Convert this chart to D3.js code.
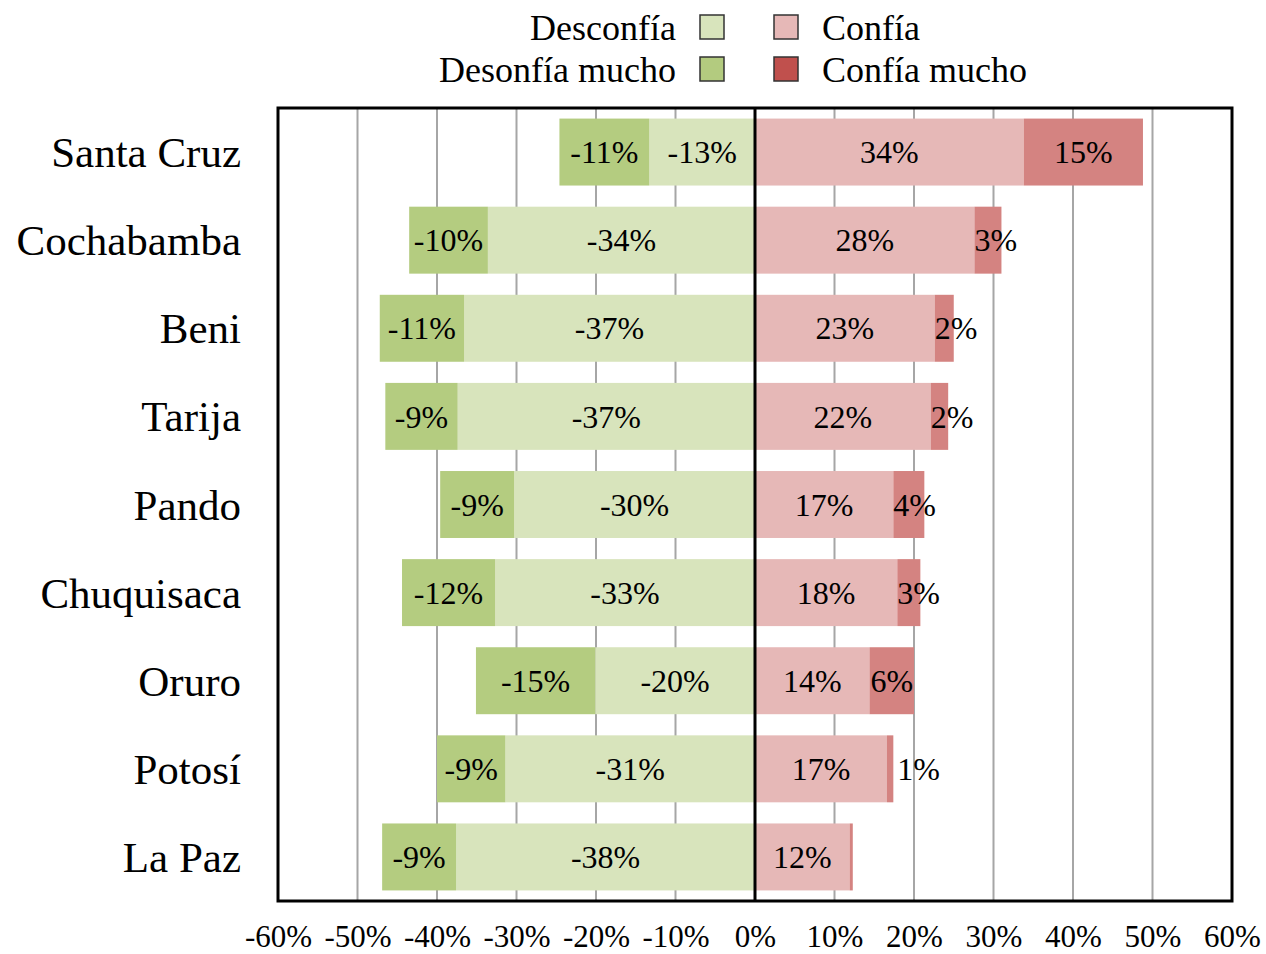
<!DOCTYPE html>
<html>
<head>
<meta charset="utf-8">
<script src="https://cdn.jsdelivr.net/npm/d3@7"></script>
<style>
  body { margin: 0; background: #fff; }
  svg { display: block; }
  text { font-family: "Liberation Serif", "Times New Roman", serif; fill: #000; }
</style>
</head>
<body>
<svg id="chart" width="1266" height="954"></svg>
<script>
const categories = ["Santa Cruz", "Cochabamba", "Beni", "Tarija", "Pando", "Chuquisaca", "Oruro", "Potosí", "La Paz"];
const desconfia      = [-13.3, -33.6, -36.6, -37.4, -30.3, -32.7, -20.1, -31.4, -37.6];
const desconfiaMucho = [-11.3,  -9.9, -10.6,  -9.1,  -9.3, -11.7, -15.0,  -8.6,  -9.3];
const confia         = [ 33.8,  27.6,  22.6,  22.1,  17.4,  17.9,  14.4,  16.6,  11.9];
const confiaMucho    = [ 15.0,   3.4,   2.4,   2.2,   3.9,   2.9,   5.6,   0.8,   0.4];
const tickValues = [-60, -50, -40, -30, -20, -10, 0, 10, 20, 30, 40, 50, 60];
const seriesNames = ["Desconfía", "Desonfía mucho", "Confía", "Confía mucho"];

const colors = {
  desconfia: "#d8e4bc",
  desconfiaMucho: "#b4cc80",
  confia: "#e6b8b7",
  confiaMucho: "#d48381"
};
const legendColors = ["#d8e4bc", "#b3cb7f", "#e6b8b7", "#c0504d"];

const svg = d3.select("#chart");
const plot = { left: 278, right: 1232, top: 108, bottom: 901 };

const x = d3.scaleLinear().domain([-60, 60]).range([plot.left, plot.right]);
const y = d3.scaleBand().domain(categories).range([plot.top, plot.bottom])
  .paddingInner(0.24).paddingOuter(0.12);

// gridlines
svg.append("g").selectAll("line")
  .data(tickValues.filter(d => d !== 0 && Math.abs(d) !== 60))
  .join("line")
  .attr("x1", d => x(d)).attr("x2", d => x(d))
  .attr("y1", plot.top).attr("y2", plot.bottom)
  .attr("stroke", "#a6a6a6").attr("stroke-width", 2);

// build segments
const segs = [];
categories.forEach((c, i) => {
  segs.push({ cat: c, x0: desconfia[i], x1: 0, v: desconfia[i], color: colors.desconfia, kind: "d" });
  segs.push({ cat: c, x0: desconfia[i] + desconfiaMucho[i], x1: desconfia[i], v: desconfiaMucho[i], color: colors.desconfiaMucho, kind: "dm" });
  segs.push({ cat: c, x0: 0, x1: confia[i], v: confia[i], color: colors.confia, kind: "c" });
  segs.push({ cat: c, x0: confia[i], x1: confia[i] + confiaMucho[i], v: confiaMucho[i], color: colors.confiaMucho, kind: "cm" });
});

svg.append("g").selectAll("rect")
  .data(segs)
  .join("rect")
  .attr("x", d => x(d.x0))
  .attr("width", d => x(d.x1) - x(d.x0))
  .attr("y", d => y(d.cat))
  .attr("height", y.bandwidth())
  .attr("fill", d => d.color);

// data labels
const fmt = v => Math.round(v) + "%";
const labelG = svg.append("g");
segs.filter(d => Math.abs(d.v) >= 0.5).forEach(d => {
  const t = labelG.append("text")
    .attr("y", y(d.cat) + y.bandwidth() / 2)
    .attr("dy", "0.35em")
    .attr("font-size", 32)
    .attr("text-anchor", "middle")
    .text(fmt(d.v));
  const w = t.node().getComputedTextLength();
  const a = x(d.x0), b = x(d.x1);
  let cx = (a + b) / 2;
  if (d.kind === "cm") {
    if (b - a < 10) cx = b + 4 + w / 2;
    else cx = Math.max(cx, a + w / 2);
  }
  t.attr("x", cx);
});

// zero line
svg.append("line")
  .attr("x1", x(0)).attr("x2", x(0))
  .attr("y1", plot.top).attr("y2", plot.bottom)
  .attr("stroke", "#000").attr("stroke-width", 3);

// plot border
svg.append("rect")
  .attr("x", plot.left).attr("y", plot.top)
  .attr("width", plot.right - plot.left).attr("height", plot.bottom - plot.top)
  .attr("fill", "none").attr("stroke", "#000").attr("stroke-width", 3);

// x axis
const xAxis = d3.axisBottom(x).tickValues(tickValues).tickSize(0).tickPadding(24)
  .tickFormat(d => d + "%");
const ax = svg.append("g").attr("transform", `translate(0,${plot.bottom})`).call(xAxis);
ax.select(".domain").remove();
ax.selectAll("text").attr("font-size", 31).attr("font-family", "Liberation Serif").attr("fill", "#000");

// category labels
svg.append("g").selectAll("text")
  .data(categories)
  .join("text")
  .attr("x", 241)
  .attr("y", d => y(d) + y.bandwidth() / 2)
  .attr("dy", "0.35em")
  .attr("text-anchor", "end")
  .attr("font-size", 43)
  .text(d => d);

// legend
const legendItems = [
  { name: seriesNames[0], color: legendColors[0], col: 0, row: 0 },
  { name: seriesNames[1], color: legendColors[1], col: 0, row: 1 },
  { name: seriesNames[2], color: legendColors[2], col: 1, row: 0 },
  { name: seriesNames[3], color: legendColors[3], col: 1, row: 1 }
];
const lg = svg.append("g");
legendItems.forEach(it => {
  const cy = 27 + it.row * 42;
  const bx = it.col === 0 ? 700 : 774;
  lg.append("rect")
    .attr("x", bx).attr("y", cy - 12).attr("width", 24).attr("height", 24)
    .attr("fill", it.color).attr("stroke", "#333").attr("stroke-width", 1.5);
  lg.append("text")
    .attr("x", it.col === 0 ? 676 : 822)
    .attr("y", cy).attr("dy", "0.35em")
    .attr("text-anchor", it.col === 0 ? "end" : "start")
    .attr("font-size", 36)
    .text(it.name);
});
</script>
</body>
</html>
